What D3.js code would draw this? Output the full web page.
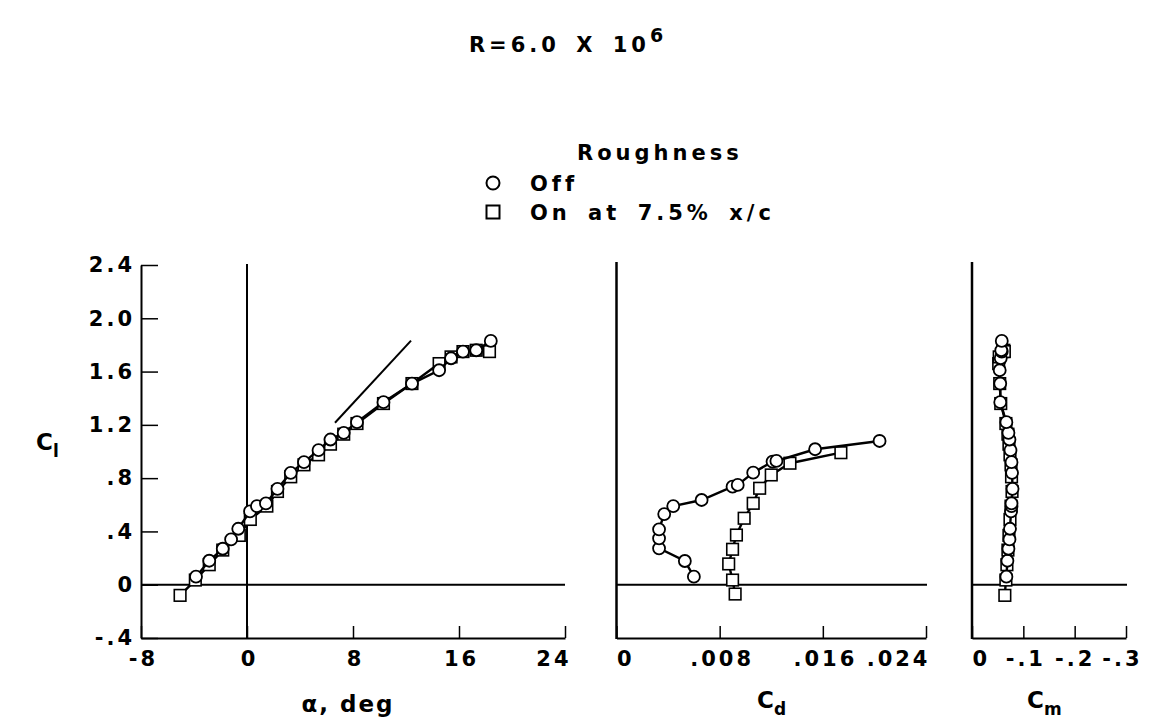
<!DOCTYPE html>
<html><head><meta charset="utf-8">
<script src="https://cdn.jsdelivr.net/npm/d3@7"></script>
<style>
body{margin:0;background:#fff}
text{font-family:"DejaVu Sans",Verdana,sans-serif;font-weight:bold;fill:#000}
</style></head>
<body><svg id="chart" width="1150" height="727"></svg>
<script>
// ---- data ----
const offAlpha=[-3.85,-2.85,-1.83,-1.2,-0.66,0.23,0.75,1.43,2.3,3.3,4.3,5.4,6.3,7.3,8.3,10.3,12.45,14.5,15.4,16.3,17.3,18.4];
const offCl=[0.06,0.18,0.27,0.34,0.42,0.55,0.59,0.61,0.72,0.84,0.92,1.01,1.09,1.14,1.22,1.37,1.51,1.61,1.70,1.75,1.76,1.83];
const offCm=[-0.067,-0.069,-0.071,-0.073,-0.074,-0.076,-0.077,-0.077,-0.079,-0.078,-0.077,-0.075,-0.073,-0.071,-0.067,-0.055,-0.055,-0.054,-0.056,-0.058,-0.057,-0.058];
const onAlpha=[-5.05,-3.9,-2.85,-1.83,-0.58,0.25,1.5,2.3,3.3,4.3,5.4,6.3,7.3,8.3,10.3,12.45,14.5,15.4,16.3,17.3,18.3];
const onCl=[-0.08,0.035,0.15,0.26,0.37,0.49,0.59,0.70,0.81,0.90,0.975,1.055,1.13,1.21,1.36,1.51,1.66,1.71,1.75,1.76,1.75];
const onCm=[-0.064,-0.066,-0.068,-0.070,-0.072,-0.074,-0.076,-0.078,-0.077,-0.076,-0.074,-0.072,-0.070,-0.066,-0.056,-0.054,-0.052,-0.053,-0.060,-0.062,-0.063];
const offDragCl=[0.06,0.178,0.273,0.348,0.416,0.53,0.59,0.636,0.736,0.749,0.841,0.924,0.929,1.017,1.079];
const offCd=[0.0060,0.0053,0.0033,0.0033,0.0033,0.0037,0.0044,0.0066,0.0090,0.0094,0.0106,0.0121,0.0124,0.0154,0.0204];
const onDragCl=[-0.07,0.035,0.156,0.266,0.373,0.499,0.611,0.724,0.824,0.912,0.991];
const onCd=[0.0092,0.0090,0.0087,0.0090,0.0093,0.0099,0.0106,0.0111,0.0120,0.01345,0.0174];
const slopeAlpha=[6.64,12.38];
const slopeCl=[1.216,1.832];

const clTicks=[-0.4,0,0.4,0.8,1.2,1.6,2.0,2.4];
const clTickLabels=["-.4","0",".4",".8","1.2","1.6","2.0","2.4"];
const alphaTicks=[-8,0,8,16,24];
const alphaTickLabels=["-8","0","8","16","24"];
const cdTicks=[0,0.008,0.016,0.024];
const cdTickLabels=["0",".008",".016",".024"];
const cmTicks=[0,-0.1,-0.2,-0.3];
const cmTickLabels=["0","-.1","-.2","-.3"];

// ---- layout ----
const svg=d3.select("#chart");
const y=d3.scaleLinear().domain([-0.4,2.4]).range([638,265]);
const xA=d3.scaleLinear().domain([-8,24]).range([141,565]);
const xD=d3.scaleLinear().domain([0,0.024]).range([616.5,926]);
const xM=d3.scaleLinear().domain([0,-0.3]).range([972,1126]);
const axisTop=262;
const LS=3;

function bottomAxis(x,ticks,labels,anchors,shifts){
  const g=svg.append("g").attr("transform",`translate(0,${y(-0.4)})`)
    .call(d3.axisBottom(x).tickValues(ticks).tickFormat((d,i)=>labels[i]).tickSize(-12).tickSizeOuter(0).tickPadding(13));
  g.select(".domain").attr("stroke","#000").attr("stroke-width",2);
  g.selectAll(".tick line").attr("stroke","#000").attr("stroke-width",1.5);
  g.selectAll(".tick text").attr("font-size",21).attr("letter-spacing",LS+"px")
    .attr("font-family",'"DejaVu Sans",Verdana,sans-serif').attr("font-weight","bold")
    .attr("text-anchor",(d,i)=>anchors[i]).attr("dx",(d,i)=>shifts[i]);
  return g;
}
function line(x1,y1,x2,y2,w){
  svg.append("line").attr("x1",x1).attr("y1",y1).attr("x2",x2).attr("y2",y2)
    .attr("stroke","#000").attr("stroke-width",w);
}

// left panel
const gy=svg.append("g").attr("transform",`translate(${xA(-8)},0)`)
  .call(d3.axisLeft(y).tickValues(clTicks).tickFormat((d,i)=>clTickLabels[i]).tickSize(-17).tickSizeOuter(0).tickPadding(6));
gy.select(".domain").attr("stroke","#000").attr("stroke-width",2);
gy.selectAll(".tick line").attr("stroke","#000").attr("stroke-width",1.5);
gy.selectAll(".tick text").attr("font-size",21).attr("letter-spacing",LS+"px")
  .attr("font-family",'"DejaVu Sans",Verdana,sans-serif').attr("font-weight","bold");
bottomAxis(xA,alphaTicks,alphaTickLabels,["middle","middle","middle","middle","end"],[2,2,2,2,6]);
line(xA(0),y(2.4)-1,xA(0),y(-0.4),2);
line(xA(-8),y(0),xA(24),y(0),2);

// middle panel
bottomAxis(xD,cdTicks,cdTickLabels,["start","middle","middle","end"],[0,2,2,4]);
line(xD(0),axisTop,xD(0),y(-0.4)+1,2.5);
line(xD(0),y(0),xD(0.024)+1,y(0),2);

// right panel
bottomAxis(xM,cmTicks,cmTickLabels,["start","middle","middle","middle"],[0,2,0,-4]);
line(xM(0),axisTop,xM(0),y(-0.4)+1,2.5);
line(xM(0),y(0),xM(-0.3)+1,y(0),2);

// ---- series ----
function series(xs,ys,xScale,shape){
  const pts=xs.map((v,i)=>[xScale(v),y(ys[i])]);
  svg.append("path").attr("d",d3.line()(pts)).attr("fill","none").attr("stroke","#000").attr("stroke-width",2.4);
  const g=svg.append("g");
  if(shape==="circle"){
    g.selectAll("circle").data(pts).join("circle").attr("cx",d=>d[0]).attr("cy",d=>d[1]).attr("r",6)
      .attr("fill","#fff").attr("stroke","#000").attr("stroke-width",1.8);
  }else{
    g.selectAll("rect").data(pts).join("rect").attr("x",d=>d[0]-5.8).attr("y",d=>d[1]-5.8).attr("width",11.6).attr("height",11.6)
      .attr("fill","#fff").attr("stroke","#000").attr("stroke-width",1.6);
  }
}
series(onAlpha,onCl,xA,"square");
series(offAlpha,offCl,xA,"circle");
line(xA(slopeAlpha[0]),y(slopeCl[0]),xA(slopeAlpha[1]),y(slopeCl[1]),2);
series(onCd,onDragCl,xD,"square");
series(offCd,offDragCl,xD,"circle");
series(onCm,onCl,xM,"square");
series(offCm,offCl,xM,"circle");

// ---- text ----
const t=svg.append("text").attr("x",568).attr("y",52).attr("text-anchor","middle")
  .attr("font-size",21).attr("letter-spacing","4px").attr("word-spacing","5px");
t.append("tspan").text("R=6.0 X 10");
t.append("tspan").attr("dy",-10).attr("font-size",19).text("6");

svg.append("text").attr("x",577).attr("y",160).attr("font-size",21).attr("letter-spacing","4px").text("Roughness");
svg.append("circle").attr("cx",493).attr("cy",183).attr("r",6.5).attr("fill","#fff").attr("stroke","#000").attr("stroke-width",2);
svg.append("rect").attr("x",486.5).attr("y",205.5).attr("width",13).attr("height",13).attr("fill","#fff").attr("stroke","#000").attr("stroke-width",2);
svg.append("text").attr("x",530).attr("y",191).attr("font-size",21).attr("letter-spacing","4px").text("Off");
svg.append("text").attr("x",530).attr("y",220).attr("font-size",21).attr("letter-spacing","4px").attr("word-spacing","6px").text("On at 7.5% x/c");

// axis titles
function subLabel(x,yy,main,sub){
  const tx=svg.append("text").attr("x",x).attr("y",yy).attr("font-size",23);
  tx.append("tspan").text(main);
  tx.append("tspan").attr("dy",7).attr("font-size",17).text(sub);
}
subLabel(36,450,"C","l");
svg.append("text").attr("x",348).attr("y",712).attr("text-anchor","middle").attr("font-size",23).attr("letter-spacing","2px").text("α, deg");
subLabel(757,708,"C","d");
subLabel(1027,708,"C","m");
</script></body></html>
